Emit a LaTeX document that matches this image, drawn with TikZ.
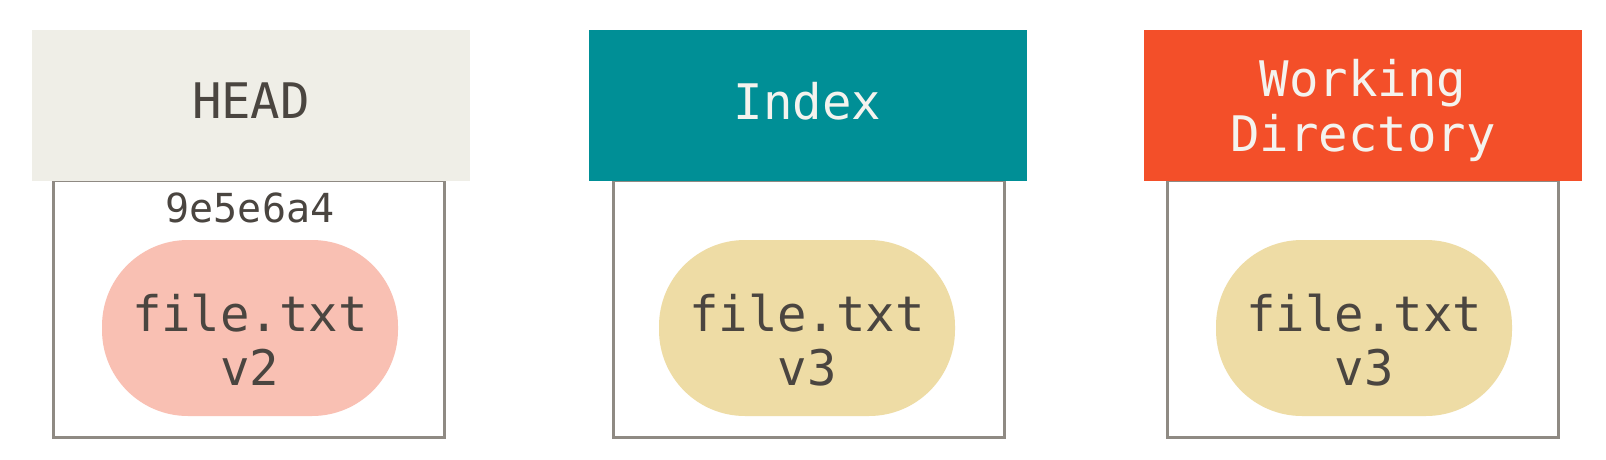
\documentclass[tikz,border=0pt]{standalone}
\usepackage{fontspec}
\setmonofont{DejaVu Sans Mono}
\usetikzlibrary{positioning}

\definecolor{headgray}{HTML}{EFEEE7}
\definecolor{indexteal}{HTML}{008F96}
\definecolor{workorange}{HTML}{F34F29}
\definecolor{pillpink}{HTML}{F9C0B3}
\definecolor{pillsand}{HTML}{EEDCA5}
\definecolor{framegray}{HTML}{8F8A83}
\definecolor{inkdark}{HTML}{4A4540}
\definecolor{inklight}{HTML}{F4F3EE}

\begin{document}
\begin{tikzpicture}[
    x=1pt, y=-1pt,
    header/.style={rectangle, inner sep=0pt, minimum width=438pt, minimum height=151pt, align=center,
        font=\fontsize{49}{55}\selectfont\ttfamily},
    bodybox/.style={rectangle, draw=framegray, line width=3pt, fill=white, minimum width=391pt, minimum height=257pt},
    pill/.style={rectangle, rounded corners=86pt, inner sep=0pt, minimum width=296pt, minimum height=176pt},
    pilltext/.style={align=center, text=inkdark, inner sep=0pt, font=\fontsize{49}{54}\selectfont\ttfamily},
    hashlabel/.style={text=inkdark, font=\fontsize{40}{44}\selectfont\ttfamily}
]
\useasboundingbox (0,0) rectangle (1606,460);

% HEAD
\node[bodybox] (headbody) at (248.5,308.5) {};
\node[header, fill=headgray, text=inkdark, text depth=9pt] (head) at (251,105.5) {HEAD};
\node[hashlabel] (hash) at (250,208) {9e5e6a4};
\node[pill, fill=pillpink] (headfile) at (250,328) {};
\node[pilltext] (headver) at ([yshift=-12pt]headfile.center) {file.txt\\v2};

% Index
\node[bodybox] (indexbody) at (808.5,308.5) {};
\node[header, fill=indexteal, text=inklight, text depth=9pt] (index) at (807.5,105.5) {Index};
\node[pill, fill=pillsand] (indexfile) at (807,328) {};
\node[pilltext] (indexver) at ([yshift=-12pt]indexfile.center) {file.txt\\v3};

% Working Directory
\node[bodybox] (workbody) at (1363,308.5) {};
\node[header, fill=workorange, text=inklight, text depth=0pt] (work) at (1363,105.5) {Working\\Directory};
\node[pill, fill=pillsand] (workfile) at (1364,328) {};
\node[pilltext] (workver) at ([yshift=-12pt]workfile.center) {file.txt\\v3};

\end{tikzpicture}
\end{document}
